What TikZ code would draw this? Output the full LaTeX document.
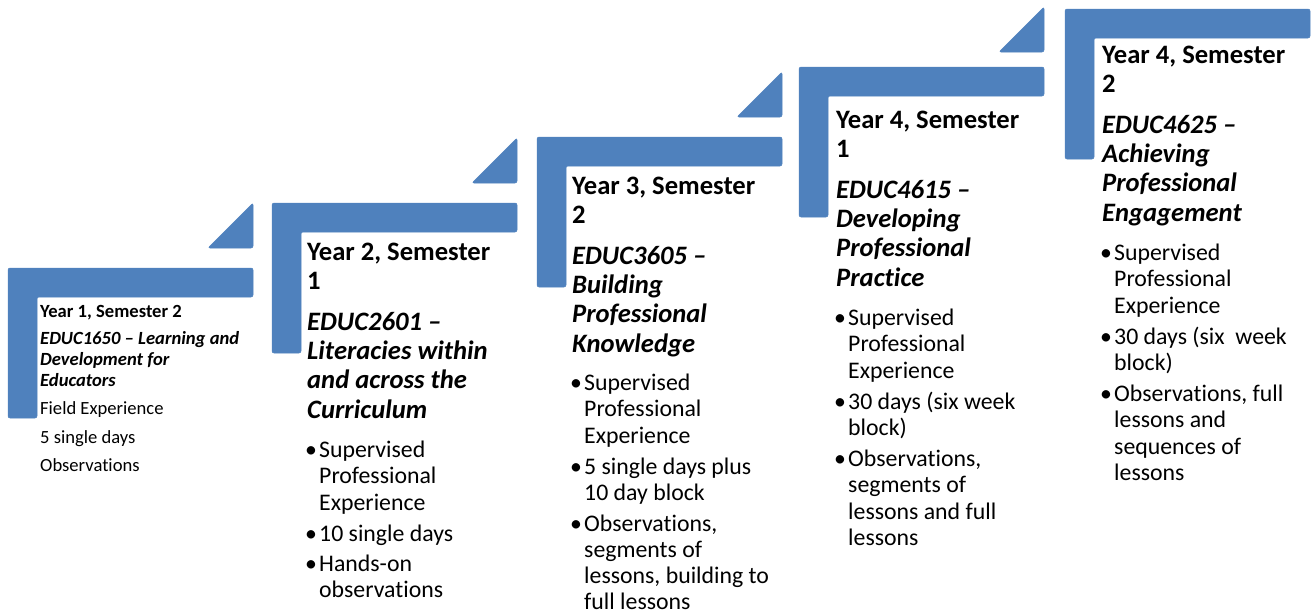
\documentclass[tikz,border=0pt]{standalone}
\usepackage{fontspec}
\setmainfont[Ligatures=NoCommon]{Carlito}
\definecolor{stepblue}{HTML}{4F81BD}
\newcommand\bl{\makebox[14pt][l]{•}}
\newcommand\ind{\hspace*{14pt}}
\tikzset{
  stepshape/.style={fill=stepblue, draw=stepblue, line width=0.5pt, rounded corners=2pt},
  headtext/.style={anchor=north west, inner sep=0pt, align=left, font=\fontsize{26.6}{29.3}\selectfont\bfseries},
  bultext/.style={anchor=north west, inner sep=0pt, align=left, font=\fontsize{23.8}{26.2}\selectfont},
  smalltext/.style={anchor=north west, inner sep=0pt, align=left, font=\fontsize{18.6}{21}\selectfont},
}
\newcommand\Lshape[3]{% name, x0, y0
  \path[stepshape] (#2,#3) -- ++(245,0) -- ++(0,29) -- ++(-216,0) -- ++(0,121) -- ++(-29,0) -- cycle;
  \coordinate (#1) at (#2,#3);
}
\newcommand\Tri[3]{% name, x0, y0
  \path[stepshape] (#2+245,#3-65) -- (#2+245,#3-20) -- (#2+200,#3-20) -- cycle;
  \coordinate (#1) at (#2+245,#3-20);
}
\begin{document}
\begin{tikzpicture}[x=1pt,y=-1pt]
\useasboundingbox (0,0) rectangle (1312,613);
% shapes
\Lshape{L1}{8}{268}   \Tri{T1}{8}{268}
\Lshape{L2}{272}{203} \Tri{T2}{272}{203}
\Lshape{L3}{537}{137} \Tri{T3}{537}{137}
\Lshape{L4}{799}{67}  \Tri{T4}{799}{72}
\Lshape{L5}{1065}{9}
% step 1
\node[smalltext] (s1) at (40,305.5) {\textbf{Year 1, Semester 2}\\[6pt]
  \textbf{\itshape EDUC1650 – Learning and}\\
  \textbf{\itshape Development for}\\
  \textbf{\itshape Educators}\\[7pt]
  Field Experience\\[8pt]
  5 single days\\[7pt]
  Observations};
% step 2
\node[headtext] (h2) at (307,243) {Year 2, Semester\\1\\[11pt]
  \itshape EDUC2601 –\\ \itshape Literacies within\\ \itshape and across the\\ \itshape Curriculum};
\node[bultext] (b2) at (305,441) {\bl Supervised\\ \ind Professional\\ \ind Experience\\[5pt]
  \bl 10 single days\\[4pt]
  \bl Hands-on\\ \ind observations};
% step 3
\node[headtext] (h3) at (572,177) {Year 3, Semester\\2\\[11pt]
  \itshape EDUC3605 –\\ \itshape Building\\ \itshape Professional\\ \itshape Knowledge};
\node[bultext] (b3) at (570,374) {\bl Supervised\\ \ind Professional\\ \ind Experience\\[5pt]
  \bl 5 single days plus\\ \ind 10 day block\\[4.5pt]
  \bl Observations,\\ \ind segments of\\ \ind lessons, building to\\ \ind full lessons};
% step 4
\node[headtext] (h4) at (836,111) {Year 4, Semester\\1\\[11pt]
  \itshape EDUC4615 –\\ \itshape Developing\\ \itshape Professional\\ \itshape Practice};
\node[bultext] (b4) at (834,309) {\bl Supervised\\ \ind Professional\\ \ind Experience\\[5pt]
  \bl 30 days (six week\\ \ind block)\\[5pt]
  \bl Observations,\\ \ind segments of\\ \ind lessons and full\\ \ind lessons};
% step 5
\node[headtext] (h5) at (1102,46) {Year 4, Semester\\2\\[11pt]
  \itshape EDUC4625 –\\ \itshape Achieving\\ \itshape Professional\\ \itshape Engagement};
\node[bultext] (b5) at (1100,244) {\bl Supervised\\ \ind Professional\\ \ind Experience\\[5pt]
  \bl 30 days (six\ \ week\\ \ind block)\\[5pt]
  \bl Observations, full\\ \ind lessons and\\ \ind sequences of\\ \ind lessons};
\end{tikzpicture}
\end{document}
